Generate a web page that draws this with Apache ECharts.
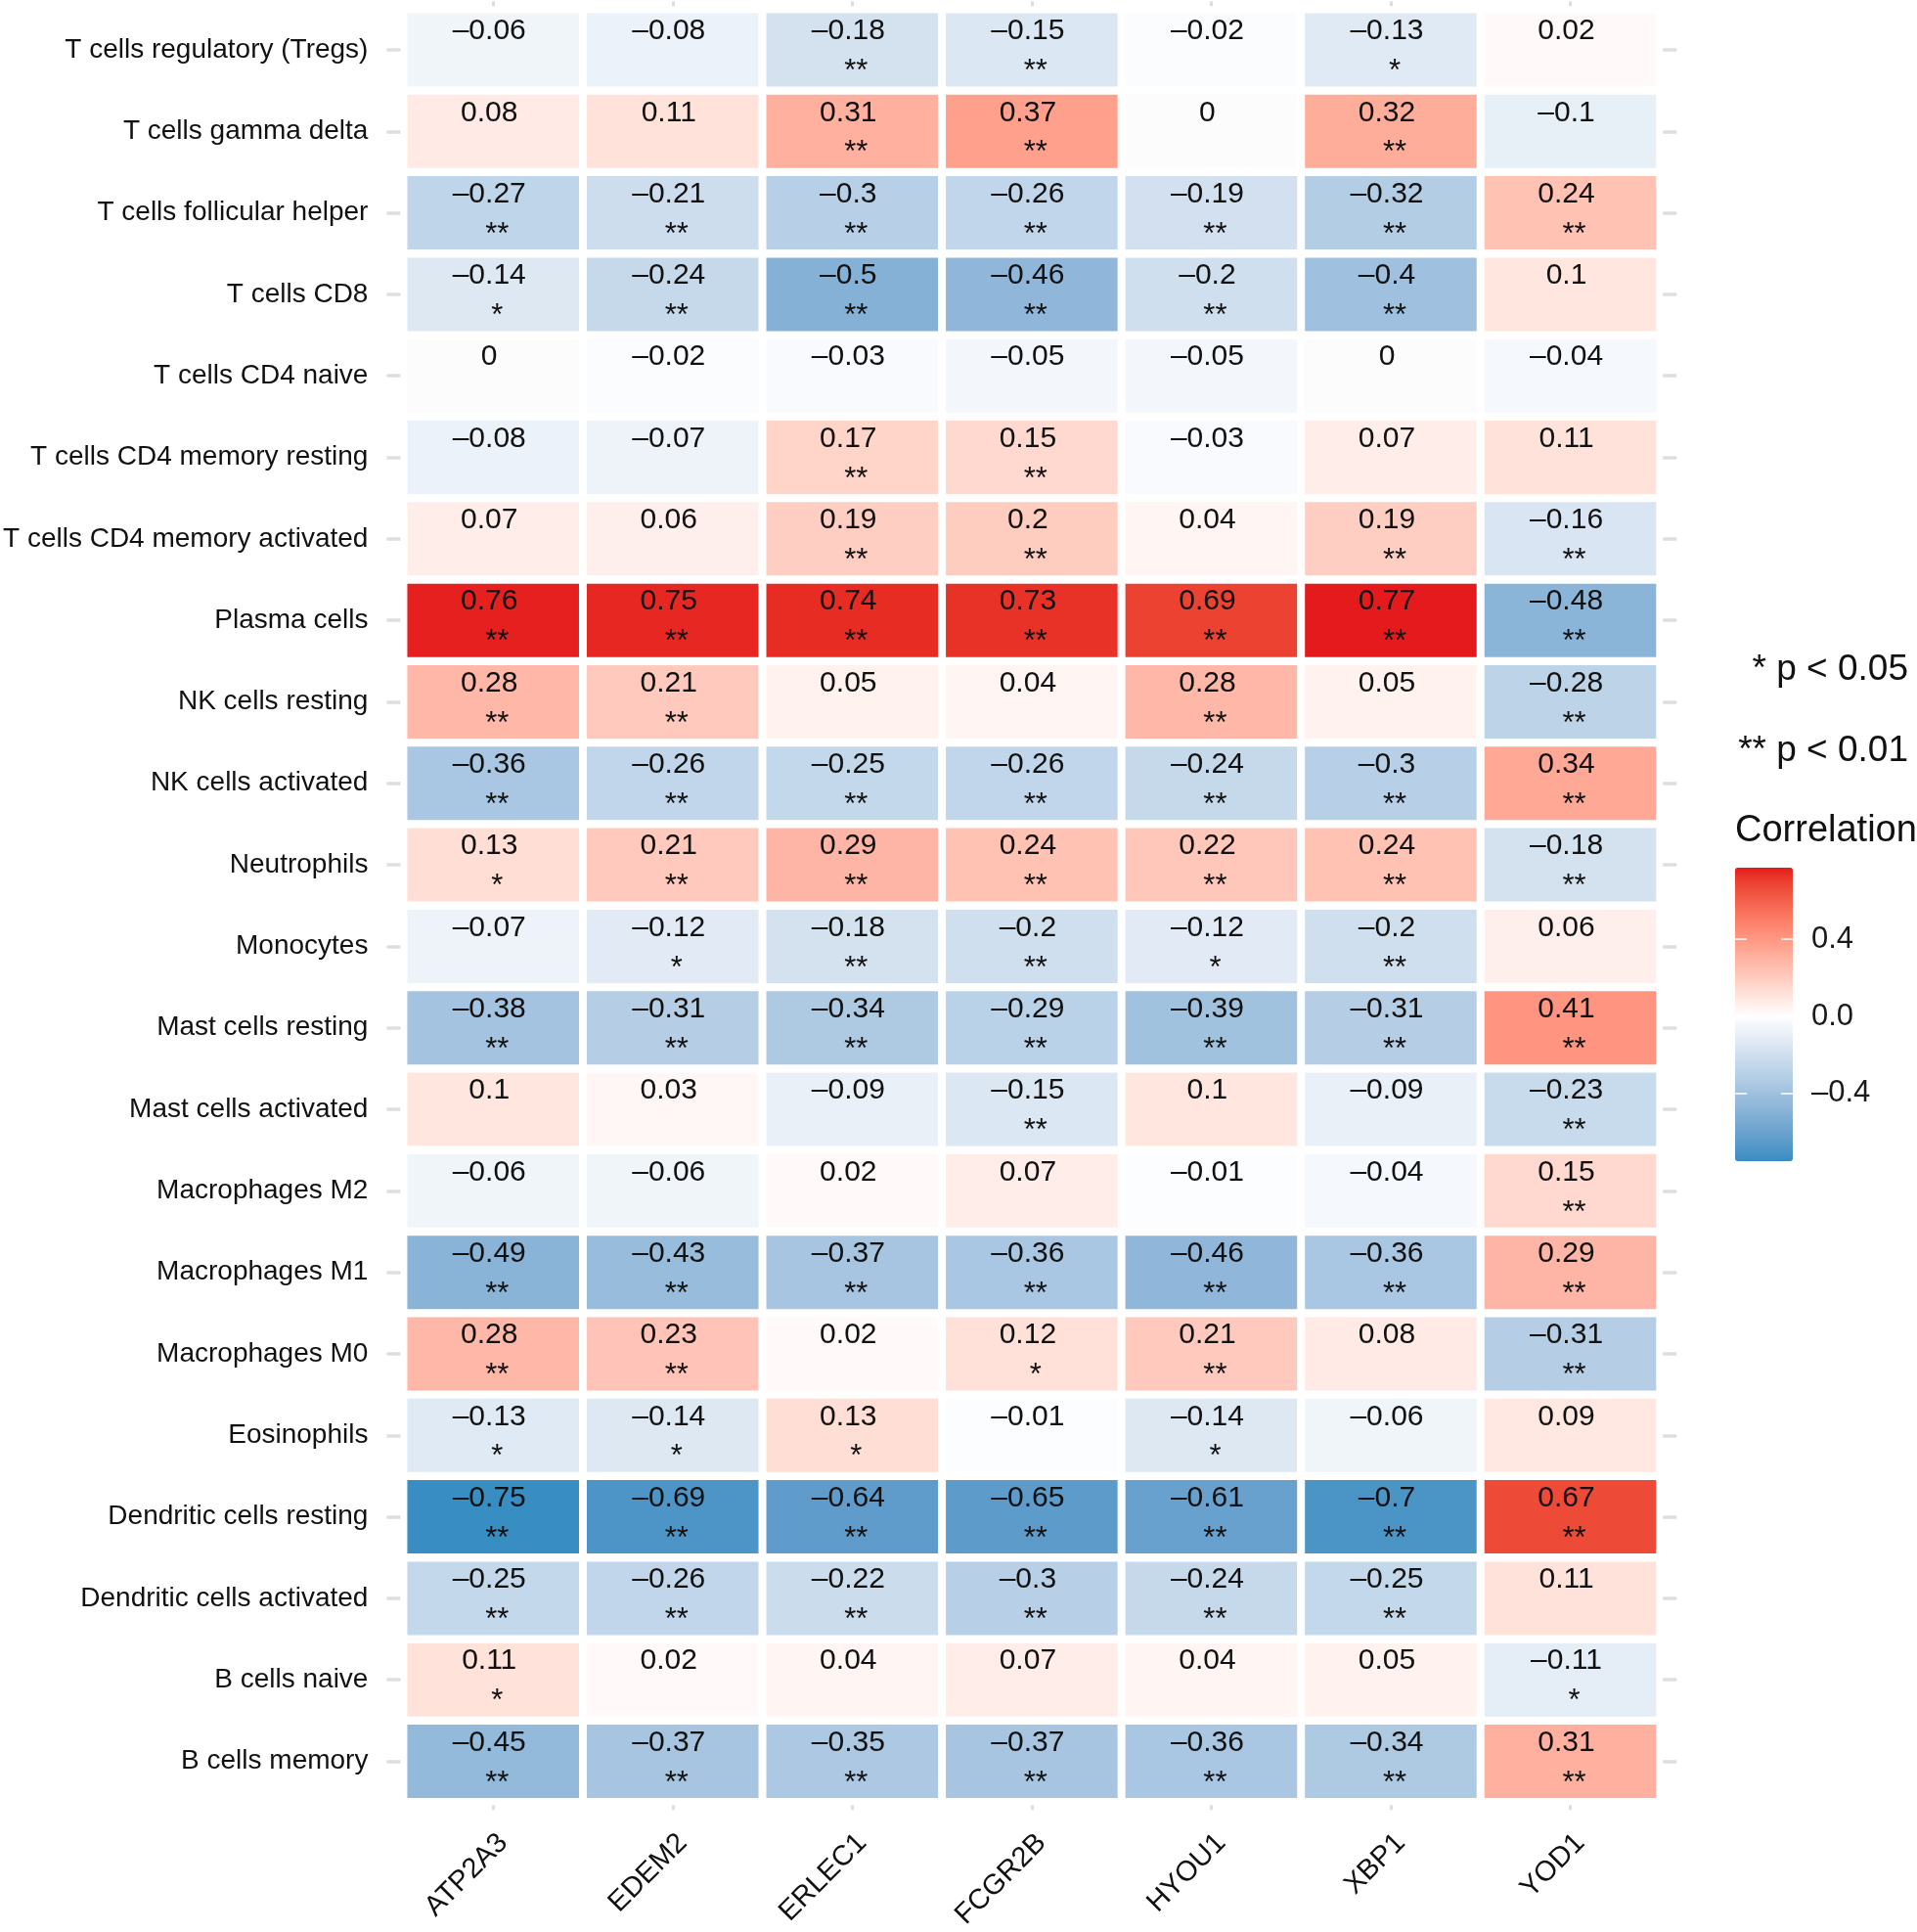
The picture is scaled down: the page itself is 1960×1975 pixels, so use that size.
<!DOCTYPE html>
<html><head><meta charset="utf-8">
<script src="https://cdn.jsdelivr.net/npm/echarts@6/dist/echarts.min.js"></script>
<style>html,body{margin:0;padding:0;background:#fff}#chart{width:1960px;height:1975px}</style>
</head><body><div id="chart"></div>
<script>
// ---- categories (top to bottom) ----
const cellTypes = [
  'T cells regulatory (Tregs)','T cells gamma delta','T cells follicular helper','T cells CD8',
  'T cells CD4 naive','T cells CD4 memory resting','T cells CD4 memory activated','Plasma cells',
  'NK cells resting','NK cells activated','Neutrophils','Monocytes','Mast cells resting',
  'Mast cells activated','Macrophages M2','Macrophages M1','Macrophages M0','Eosinophils',
  'Dendritic cells resting','Dendritic cells activated','B cells naive','B cells memory'
];
const genes = ['ATP2A3','EDEM2','ERLEC1','FCGR2B','HYOU1','XBP1','YOD1'];

// ---- correlation values per gene (same order as cellTypes) ----
const ATP2A3 = [-0.06,0.08,-0.27,-0.14,0,-0.08,0.07,0.76,0.28,-0.36,0.13,-0.07,-0.38,0.1,-0.06,-0.49,0.28,-0.13,-0.75,-0.25,0.11,-0.45];
const EDEM2  = [-0.08,0.11,-0.21,-0.24,-0.02,-0.07,0.06,0.75,0.21,-0.26,0.21,-0.12,-0.31,0.03,-0.06,-0.43,0.23,-0.14,-0.69,-0.26,0.02,-0.37];
const ERLEC1 = [-0.18,0.31,-0.3,-0.5,-0.03,0.17,0.19,0.74,0.05,-0.25,0.29,-0.18,-0.34,-0.09,0.02,-0.37,0.02,0.13,-0.64,-0.22,0.04,-0.35];
const FCGR2B = [-0.15,0.37,-0.26,-0.46,-0.05,0.15,0.2,0.73,0.04,-0.26,0.24,-0.2,-0.29,-0.15,0.07,-0.36,0.12,-0.01,-0.65,-0.3,0.07,-0.37];
const HYOU1  = [-0.02,0,-0.19,-0.2,-0.05,-0.03,0.04,0.69,0.28,-0.24,0.22,-0.12,-0.39,0.1,-0.01,-0.46,0.21,-0.14,-0.61,-0.24,0.04,-0.36];
const XBP1   = [-0.13,0.32,-0.32,-0.4,0,0.07,0.19,0.77,0.05,-0.3,0.24,-0.2,-0.31,-0.09,-0.04,-0.36,0.08,-0.06,-0.7,-0.25,0.05,-0.34];
const YOD1   = [0.02,-0.1,0.24,0.1,-0.04,0.11,-0.16,-0.48,-0.28,0.34,-0.18,0.06,0.41,-0.23,0.15,0.29,-0.31,0.09,0.67,0.11,-0.11,0.31];

// ---- significance marks per gene ----
const ATP2A3_sig = ['','','**','*','','','','**','**','**','*','','**','','','**','**','*','**','**','*','**'];
const EDEM2_sig  = ['','','**','**','','','','**','**','**','**','*','**','','','**','**','*','**','**','','**'];
const ERLEC1_sig = ['**','**','**','**','','**','**','**','','**','**','**','**','','','**','','*','**','**','','**'];
const FCGR2B_sig = ['**','**','**','**','','**','**','**','','**','**','**','**','**','','**','*','','**','**','','**'];
const HYOU1_sig  = ['','','**','**','','','','**','**','**','**','*','**','','','**','**','*','**','**','','**'];
const XBP1_sig   = ['*','**','**','**','','','**','**','','**','**','**','**','','','**','','','**','**','','**'];
const YOD1_sig   = ['','','**','','','','**','**','**','**','**','','**','**','**','**','**','','**','','*','**'];

// ---- legend ----
const legendTicks = [0.4, 0.0, -0.4];
const legendTickLabels = ['0.4', '0.0', '\u20130.4'];
const sigNotes = ['* p < 0.05', '** p < 0.01'];
const legendTitle = 'Correlation';
const scaleMin = -0.75, scaleMax = 0.77;

const geneValues = [ATP2A3, EDEM2, ERLEC1, FCGR2B, HYOU1, XBP1, YOD1];
const geneSigs = [ATP2A3_sig, EDEM2_sig, ERLEC1_sig, FCGR2B_sig, HYOU1_sig, XBP1_sig, YOD1_sig];

const data = [], sigList = [];
geneValues.forEach((arr, gi) => arr.forEach((v, ri) => {
  data.push([gi, ri, v]);
  sigList.push(geneSigs[gi][ri]);
}));

// ---- colour scale: gradient2 (low - white - high) interpolated in Lab ----
function hex2rgb(h){h=h.replace('#','');return [0,2,4].map(i=>parseInt(h.substr(i,2),16));}
function lin(c){c/=255;return c<=0.04045?c/12.92:Math.pow((c+0.055)/1.055,2.4);}
function delin(c){c=c<=0.0031308?12.92*c:1.055*Math.pow(c,1/2.4)-0.055;return Math.max(0,Math.min(255,Math.round(c*255)));}
const WX=0.95047,WY=1,WZ=1.08883;
function f(t){return t>0.008856?Math.cbrt(t):7.787*t+16/116;}
function finv(t){const t3=t*t*t;return t3>0.008856?t3:(t-16/116)/7.787;}
function rgb2lab(rgb){const [r,g,b]=rgb.map(lin);
  const X=(0.4124*r+0.3576*g+0.1805*b)/WX,Y=(0.2126*r+0.7152*g+0.0722*b)/WY,Z=(0.0193*r+0.1192*g+0.9505*b)/WZ;
  const fx=f(X),fy=f(Y),fz=f(Z);return [116*fy-16,500*(fx-fy),200*(fy-fz)];}
function lab2rgb(lab){const fy=(lab[0]+16)/116,fx=fy+lab[1]/500,fz=fy-lab[2]/200;
  const X=finv(fx)*WX,Y=finv(fy)*WY,Z=finv(fz)*WZ;
  const r=3.2406*X-1.5372*Y-0.4986*Z,g=-0.9689*X+1.8758*Y+0.0415*Z,b=0.0557*X-0.2040*Y+1.0570*Z;
  return 'rgb('+delin(r)+','+delin(g)+','+delin(b)+')';}
const lowLab=rgb2lab(hex2rgb('#2E8AC0')), midLab=rgb2lab(hex2rgb('#FFFFFF')), highLab=rgb2lab(hex2rgb('#E41A1C'));
function colorAt(v){
  const mx=Math.max(Math.abs(scaleMin),Math.abs(scaleMax));
  const t=v/mx; const a=t<0?lowLab:highLab; const s=Math.min(1,Math.abs(t));
  return lab2rgb([0,1,2].map(k=>midLab[k]+(a[k]-midLab[k])*s));
}
const stops=[];const NS=60;
for(let i=0;i<=NS;i++){stops.push(colorAt(scaleMin+(scaleMax-scaleMin)*i/NS));}

// ---- layout ----
const FONT='"Liberation Sans", Arial, Helvetica, sans-serif';
const barLeft=1774, barTop=887, barW=59, barH=300;
function valToY(v){return barTop+(scaleMax-v)/(scaleMax-scaleMin)*barH;}
function fmt(v){return v===0?'0':String(v).replace('-','\u2013');}

const graphics=[];
legendTicks.forEach((v,i)=>{
  const y=valToY(v);
  graphics.push({type:'line',z:100,shape:{x1:barLeft,y1:y,x2:barLeft+12,y2:y},style:{stroke:'#fff',lineWidth:1.5}});
  graphics.push({type:'line',z:100,shape:{x1:barLeft+barW-12,y1:y,x2:barLeft+barW,y2:y},style:{stroke:'#fff',lineWidth:1.5}});
  graphics.push({type:'text',z:100,x:1852,y:y,style:{text:legendTickLabels[i],fill:'#1a1a1a',font:'31px '+FONT,align:'left',verticalAlign:'middle'}});
});
graphics.push({type:'text',z:100,x:1951,y:685,style:{text:sigNotes[0],fill:'#111',font:'37px '+FONT,align:'right',verticalAlign:'middle'}});
graphics.push({type:'text',z:100,x:1951,y:768,style:{text:sigNotes[1],fill:'#111',font:'37px '+FONT,align:'right',verticalAlign:'middle'}});
graphics.push({type:'text',z:100,x:1774,y:850,style:{text:legendTitle,fill:'#111',font:'38px '+FONT,align:'left',verticalAlign:'middle'}});

const tickColor='#dedede';
const chart=echarts.init(document.getElementById('chart'),null,{renderer:'canvas'});
chart.setOption({
  backgroundColor:'#fff',
  animation:false,
  grid:{left:410.3,top:9.3,width:1287,height:1833.7,containLabel:false},
  xAxis:[
    {type:'category',data:genes,position:'bottom',offset:3,
     axisLine:{show:false},
     axisTick:{show:true,alignWithLabel:true,length:5,lineStyle:{color:tickColor,width:3}},
     axisLabel:{interval:0,rotate:45,align:'right',verticalAlign:'top',margin:24,color:'#111',fontSize:29,fontFamily:FONT},
     splitLine:{show:false}},
    {type:'category',data:genes,position:'top',offset:3,
     axisLine:{show:false},
     axisTick:{show:true,alignWithLabel:true,length:5,lineStyle:{color:tickColor,width:3}},
     axisLabel:{show:false},splitLine:{show:false}}
  ],
  yAxis:[
    {type:'category',data:cellTypes,inverse:true,position:'left',offset:3,
     axisLine:{show:false},
     axisTick:{show:true,alignWithLabel:true,length:14,lineStyle:{color:tickColor,width:3.5}},
     axisLabel:{interval:0,margin:33,color:'#111',fontSize:28,fontFamily:FONT},
     splitLine:{show:false}},
    {type:'category',data:cellTypes,inverse:true,position:'right',offset:3,
     axisLine:{show:false},
     axisTick:{show:true,alignWithLabel:true,length:14,lineStyle:{color:tickColor,width:3.5}},
     axisLabel:{show:false},splitLine:{show:false}}
  ],
  visualMap:{
    type:'continuous',min:scaleMin,max:scaleMax,dimension:2,seriesIndex:0,
    calculable:false,hoverLink:false,
    left:barLeft,top:barTop,itemWidth:barW,itemHeight:barH,padding:0,
    text:null,
    inRange:{color:stops}
  },
  series:[{
    type:'custom',
    xAxisIndex:0,yAxisIndex:0,
    data:data,
    encode:{x:0,y:1},
    renderItem:function(params,api){
      const c=api.coord([api.value(0),api.value(1)]);
      const s=api.size([1,1]);
      const w=s[0]-8,h=s[1]-8.3;
      return {type:'group',children:[
        {type:'rect',shape:{x:c[0]-w/2,y:c[1]-h/2,width:w,height:h},style:{fill:api.visual('color')}},
        {type:'text',x:c[0]-4,y:c[1]-s[1]*0.228,style:{text:fmt(api.value(2)),fill:'#111',font:'30px '+FONT,align:'center',verticalAlign:'middle'}},
        {type:'text',x:c[0]+4,y:c[1]+s[1]*0.272,style:{text:sigList[params.dataIndex],fill:'#111',font:'31px '+FONT,align:'center',verticalAlign:'middle'}}
      ]};
    }
  }],
  graphic:graphics
});
</script></body></html>
